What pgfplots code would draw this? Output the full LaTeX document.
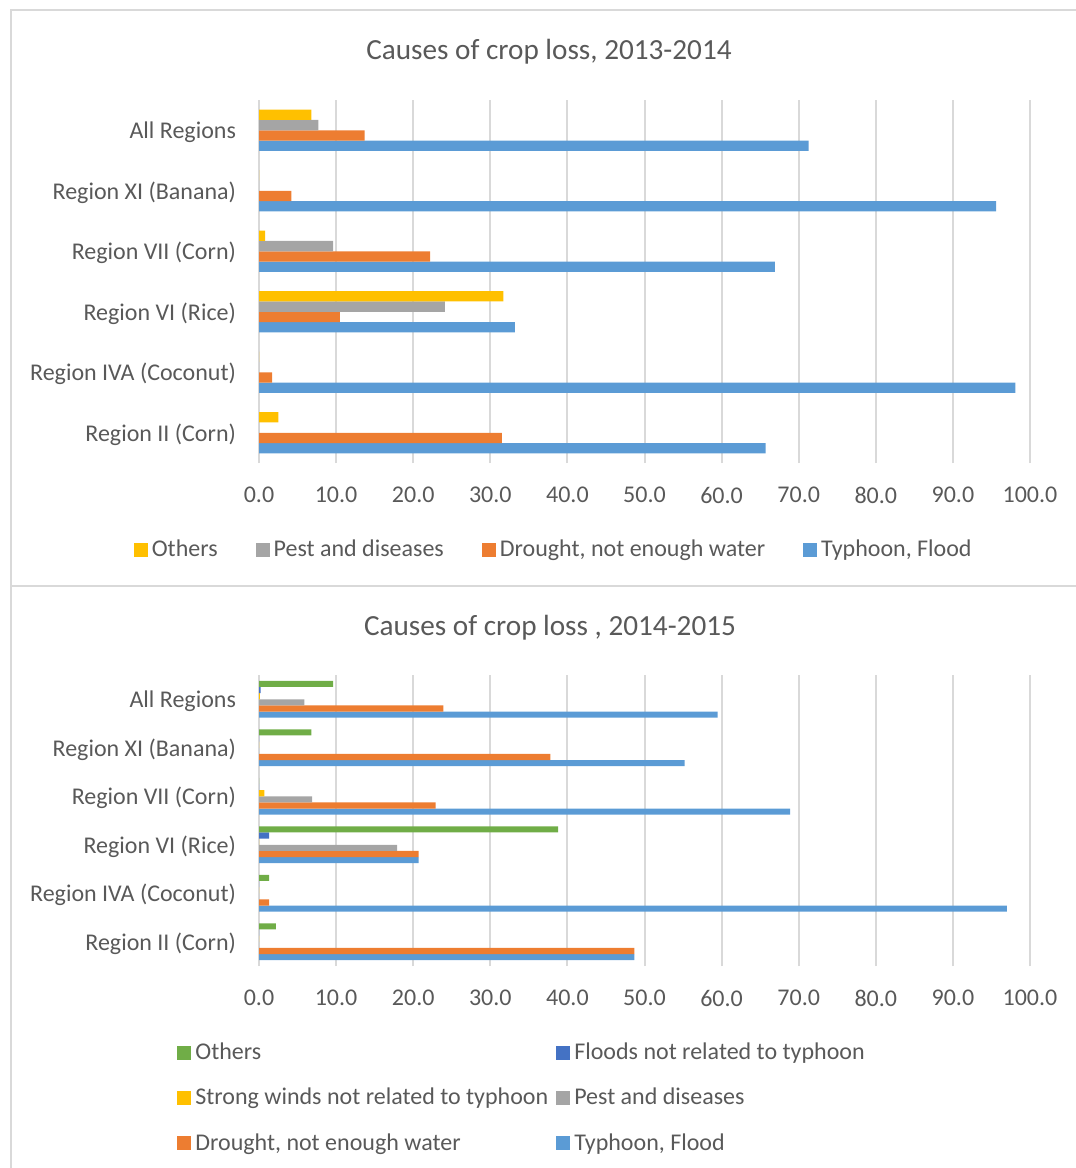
\documentclass[border=0pt]{standalone}
\usepackage{fontspec}
\setmainfont{Carlito}
\usepackage{pgfplots}
\usepackage{pgfplotstable}
\pgfplotsset{compat=1.18}
\definecolor{cTy}{HTML}{5B9BD5}
\definecolor{cDr}{HTML}{ED7D31}
\definecolor{cPe}{HTML}{A5A5A5}
\definecolor{cYe}{HTML}{FFC000}
\definecolor{cFl}{HTML}{4472C4}
\definecolor{cGr}{HTML}{70AD47}
\definecolor{txt}{HTML}{595959}
\definecolor{grd}{HTML}{D9D9D9}

% top chart: 2013-2014
\pgfplotstableread{
c ty dr pe ot
0 65.7 31.5 0 2.5
1 98.1 1.7 0 0
2 33.2 10.5 24.1 31.7
3 66.9 22.2 9.6 0.8
4 95.6 4.2 0 0
5 71.3 13.7 7.7 6.8
}\topdata

% bottom chart: 2014-2015
\pgfplotstableread{
c ty dr pe wi fl ot
0 48.7 48.7 0 0 0 2.2
1 97.0 1.3 0 0 0 1.3
2 20.7 20.7 17.9 0 1.3 38.8
3 68.9 22.9 6.9 0.7 0 0
4 55.2 37.8 0 0 0 6.8
5 59.5 23.9 5.9 0.1 0.2 9.6
}\botdata

\pgfplotsset{
  cropstyle/.style={
    scale only axis, width=385.5pt,
    xbar=0pt,
    xmin=0, xmax=100, ymin=-0.5, ymax=5.5,
    xtick={0,10,...,100}, ytick={0,1,2,3,4,5},
    yticklabels={Region II (Corn),Region IVA (Coconut),Region VI (Rice),Region VII (Corn),Region XI (Banana),All Regions},
    xmajorgrids, grid style={grd, line width=1pt},
    axis line style={draw=none}, major tick length=0pt,
    tick label style={font=\fontsize{12}{14}\selectfont, text=txt},
    xticklabel style={/pgf/number format/fixed, /pgf/number format/fixed zerofill, /pgf/number format/precision=1, /pgf/number format/assume math mode=true, yshift=-8.5pt},
    yticklabel style={xshift=-8pt, yshift=-1pt},
    legend style={draw=none, fill=none, font=\fontsize{12}{14}\selectfont, text=txt},
    legend cell align=left,
    reverse legend,
    legend image code/.code={\fill[##1,draw=none] (0pt,-3.5pt) rectangle (7pt,3.5pt);},
  }
}

\begin{document}
\begin{tikzpicture}
\path[use as bounding box] (0pt,0pt) rectangle (538pt,-584pt);
\draw[grd, line width=1.2pt] (5.5pt,-5pt) rectangle (560pt,-293pt);
\draw[grd, line width=1.2pt] (5.5pt,-293pt) rectangle (560pt,-600pt);

\node[text=txt, font=\fontsize{14.6}{17}\selectfont] at (274.5pt,-26pt) {Causes of crop loss, 2013-2014};
\node[text=txt, font=\fontsize{14.6}{17}\selectfont] at (275pt,-314pt) {Causes of crop loss , 2014-2015};

\begin{axis}[cropstyle,
  at={(129.5pt,-231.5pt)}, anchor=south west,
  height=181.5pt, bar width=0.171,
  legend columns=4,
  legend style={at={(0.3836,-0.2395)}, anchor=center,
    /tikz/every even column/.append style={column sep=17pt}},
]
\addplot[fill=cTy, draw=none] table[x=ty, y=c] {\topdata};
\addlegendentry{Typhoon, Flood}
\addplot[fill=cDr, draw=none] table[x=dr, y=c] {\topdata};
\addlegendentry{Drought, not enough water}
\addplot[fill=cPe, draw=none] table[x=pe, y=c] {\topdata};
\addlegendentry{Pest and diseases}
\addplot[fill=cYe, draw=none] table[x=ot, y=c] {\topdata};
\addlegendentry{Others}
\end{axis}

\begin{axis}[cropstyle,
  at={(129.5pt,-483pt)}, anchor=south west,
  height=145.5pt, bar width=0.127,
  legend columns=2,
  legend style={at={(0.3425,-0.454)}, anchor=center,
    /tikz/every even column/.append style={column sep=2pt},
    row sep=8.75pt},
]
\addplot[fill=cTy, draw=none] table[x=ty, y=c] {\botdata};
\addlegendentry{Typhoon, Flood}
\addplot[fill=cDr, draw=none] table[x=dr, y=c] {\botdata};
\addlegendentry{Drought, not enough water}
\addplot[fill=cPe, draw=none] table[x=pe, y=c] {\botdata};
\addlegendentry{Pest and diseases}
\addplot[fill=cYe, draw=none] table[x=wi, y=c] {\botdata};
\addlegendentry{Strong winds not related to typhoon}
\addplot[fill=cFl, draw=none] table[x=fl, y=c] {\botdata};
\addlegendentry{Floods not related to typhoon}
\addplot[fill=cGr, draw=none] table[x=ot, y=c] {\botdata};
\addlegendentry{Others}
\end{axis}
\end{tikzpicture}
\end{document}
